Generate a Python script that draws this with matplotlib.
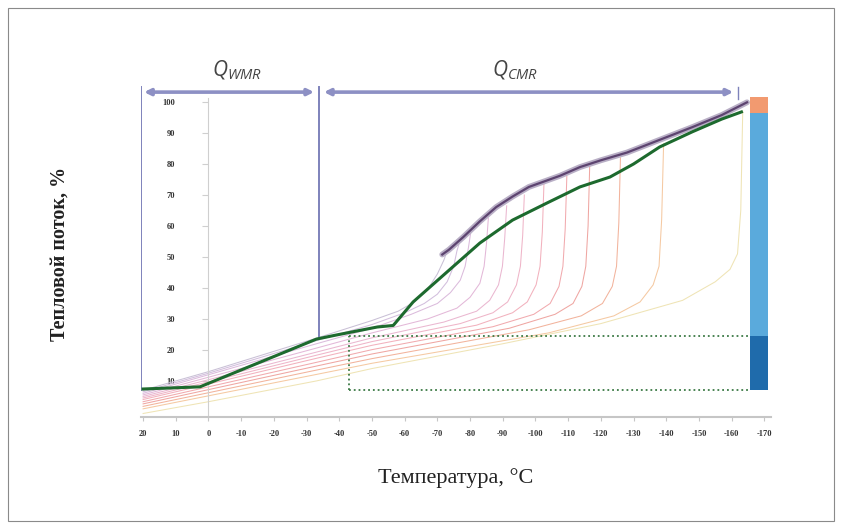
import matplotlib
matplotlib.use("Agg")
import matplotlib.pyplot as plt
from matplotlib.patches import Rectangle

plt.rcParams['mathtext.fontset'] = 'custom'
plt.rcParams['mathtext.it'] = 'Open Sans:italic'
plt.rcParams['mathtext.rm'] = 'Open Sans'

# temperature ticks, deg C
temp_ticks = [20, 10, 0, -10, -20, -30, -40, -50, -60, -70, -80, -90,
              -100, -110, -120, -130, -140, -150, -160, -170]
flow_ticks = [10, 20, 30, 40, 50, 60, 70, 80, 90, 100]

# thick green curve (total heat flow)
green_t = [20, 2.6, -33, -39, -51.6, -56.5, -62.6, -73, -83, -93, -103.5,
           -113.6, -122.8, -130, -138, -148, -157, -163]
green_q = [7.4, 8.1, 23.5, 24.8, 27.4, 27.9, 35.5, 45.2, 54.5, 61.9, 67.4,
           72.6, 75.8, 80, 85.5, 90.4, 94.5, 96.8]

# dark purple envelope curve
purple_t = [-71.5, -73.5, -78, -83, -88, -93, -98, -107.5, -113.6, -120,
            -128, -138, -148, -157, -164.7]
purple_q = [50.8, 52.3, 56.5, 61.5, 66.1, 69.5, 72.6, 76.2, 79.0, 81.2,
            83.7, 87.8, 91.9, 95.8, 99.9]

# thin curves, one per mixture
thin_t = [
    [20, 0, -33, -50, -58, -63, -67, -70, -72, -73],
    [20, 0, -33, -50, -60, -66, -70, -73, -75, -76, -77],
    [20, 0, -33, -50, -62, -70, -74, -77, -78.5, -79.5, -80.3],
    [20, 0, -33, -50, -67, -76, -80, -83, -84.3, -85, -85.6],
    [20, 0, -33, -50, -72, -82, -86, -88.7, -89.9, -90.6, -91.2],
    [20, 0, -33, -50, -77, -87, -91.5, -94.2, -95.4, -96.1, -96.6],
    [20, 0, -33, -50, -82, -93, -97.5, -100.2, -101.4, -102.1, -102.6],
    [20, 0, -33, -50, -87, -99.5, -104.5, -107.2, -108.4, -109.1, -109.6],
    [20, 0, -33, -50, -92, -106, -111.5, -114.2, -115.4, -116.1, -116.6],
    [20, 0, -33, -50, -98, -114, -120.5, -123.5, -124.8, -125.5, -126],
    [20, 0, -33, -50, -104, -124, -132, -136, -137.8, -138.6, -139.2],
    [20, 0, -33, -50, -90, -120, -145, -155, -159.5, -161.8, -162.8, -163.4],
]
thin_q = [
    [7.0, 13.0, 23.8, 29.5, 32.5, 35.5, 39.5, 44.5, 49, 52],
    [6.5, 12.5, 23.0, 28.2, 32, 35, 38, 42, 47, 52, 55.5],
    [6.0, 12.0, 22.0, 27.0, 31.5, 35, 38.5, 42.5, 47, 53, 58.5],
    [5.5, 11.2, 20.6, 25.5, 30, 33.5, 37, 41.5, 47, 54, 62.5],
    [5.0, 10.4, 19.3, 23.9, 29, 32.5, 36, 41, 47, 56, 66.5],
    [4.5, 9.7, 18.3, 22.7, 28.5, 32, 35.5, 41, 47, 57, 70],
    [4.0, 9.0, 17.3, 21.5, 28, 32, 35.5, 41, 47, 58, 73.5],
    [3.3, 8.1, 16.0, 20.1, 27.5, 31.5, 35, 40.5, 47, 59, 76],
    [2.6, 7.2, 14.8, 18.7, 27, 31.5, 35, 40.5, 47, 60, 79.5],
    [1.8, 6.2, 13.5, 17.2, 26.5, 31, 35, 40.5, 47, 61, 82],
    [1.0, 5.2, 12.1, 15.7, 25.5, 31, 35.5, 41, 47, 62, 86.5],
    [-0.5, 3.3, 10.0, 14.0, 22, 28.5, 36, 42, 46, 51, 65, 97],
]
thin_colors = ['#c9c0d6', '#d2bedd', '#dbbbdc', '#e3b8d8', '#eab7d0', '#efb5c8',
               '#f2b1bd', '#f1aaae', '#efa6a2', '#f2b39c', '#f5c9a2', '#efe4b5']

# bounds of the regions
wmr_t = [20.5, -33.8]
cmr_t = [-33.8, -162]
rect_t = [-43, -165.6]
rect_q = [7.1, 24.5]
bar_t = [-165.6, -171.2]
bar_q = [7.1, 24.5, 96.5, 101.6]
bar_colors = ['#1f6bab', '#5aaadc', '#f29a70']

fig = plt.figure(figsize=(8.42, 5.29), dpi=100)
ax = fig.add_axes([0.168, 0.2125, 0.7475, 0.679])
ax.set_xlim(20.5, -172)
ax.set_ylim(-1.5, 114.4)

for tt, qq, c in zip(thin_t, thin_q, thin_colors):
    ax.plot(tt, qq, color=c, lw=0.75, solid_joinstyle='round', zorder=2)

ax.plot(purple_t, purple_q, color='#b9afc6', lw=4.2, solid_capstyle='round', zorder=3)
ax.plot(purple_t, purple_q, color='#5d4470', lw=1.6, zorder=4)
ax.plot(green_t, green_q, color='#1d6a2e', lw=2.2, zorder=5)

# dotted box
ax.plot([rect_t[0], rect_t[1]], [rect_q[1], rect_q[1]], ls=':', color='#3c7a45', lw=1.3, zorder=3)
ax.plot([rect_t[0], rect_t[1]], [rect_q[0], rect_q[0]], ls=':', color='#3c7a45', lw=1.3, zorder=3)
ax.plot([rect_t[0], rect_t[0]], [rect_q[0], rect_q[1]], ls=':', color='#3c7a45', lw=1.3, zorder=3)

# right bar
for i, c in enumerate(bar_colors):
    ax.add_patch(Rectangle((bar_t[0], bar_q[i]), bar_t[1] - bar_t[0],
                           bar_q[i + 1] - bar_q[i], facecolor=c, edgecolor='none', zorder=6))

# blue region lines and arrows
blue = '#7e82bb'
ax.plot([wmr_t[0], wmr_t[0]], [7.2, 105.0], color=blue, lw=1.4, zorder=4)
ax.plot([wmr_t[1], wmr_t[1]], [24.2, 105.0], color=blue, lw=1.4, zorder=4)
ax.plot([cmr_t[1], cmr_t[1]], [101.0, 104.8], color=blue, lw=1.0, zorder=4)
arrow_q = 103.2
for a, b in [wmr_t, cmr_t]:
    ax.annotate('', xy=(a - 0.8 if a > 0 else a - 1.5, arrow_q), xytext=(b + 1.5, arrow_q),
                arrowprops=dict(arrowstyle='<|-|>', color='#8d90c4', lw=2.6,
                                mutation_scale=9, shrinkA=0, shrinkB=0), zorder=4)
ax.text(-8.7, 110.3, r'$Q_{WMR}$', fontsize=15, color='#444444', ha='center', va='center')
ax.text(-93.8, 110.3, r'$Q_{CMR}$', fontsize=15, color='#444444', ha='center', va='center')

# axes styling
for s in ['top', 'right']:
    ax.spines[s].set_visible(False)
ax.spines['left'].set_position(('data', 0))
ax.spines['left'].set_bounds(-1.5, 101.3)
ax.spines['left'].set_color('#cfcfcf')
ax.spines['bottom'].set_color('#c6c6c6')
ax.spines['bottom'].set_linewidth(1.5)
ax.set_xticks(temp_ticks)
ax.set_xticklabels([str(t) for t in temp_ticks])
ax.set_yticks(flow_ticks)
ax.set_yticklabels([str(v) for v in flow_ticks])
ax.tick_params(axis='x', length=3, color='#c6c6c6', pad=7, labelsize=6, labelcolor='#333333')
ax.tick_params(axis='y', length=4, color='#cfcfcf', pad=20, labelsize=6, labelcolor='#333333')
for lab in ax.get_xticklabels() + ax.get_yticklabels():
    lab.set_fontfamily('Liberation Serif')
    lab.set_fontweight('bold')

fig.text(0.0713, 0.52, 'Тепловой поток, %', rotation=90, ha='center', va='center',
         fontsize=14.5, fontweight='bold', family='Liberation Serif', color='#222222')
fig.text(0.541, 0.097, 'Температура, °C', ha='center', va='center',
         fontsize=16, family='Liberation Serif', color='#222222')

fig.add_artist(Rectangle((0.0095, 0.0151), 0.981, 0.9698, transform=fig.transFigure,
                         fill=False, edgecolor='#8a8a8a', lw=0.8))

fig.savefig('out.png', dpi=100)
